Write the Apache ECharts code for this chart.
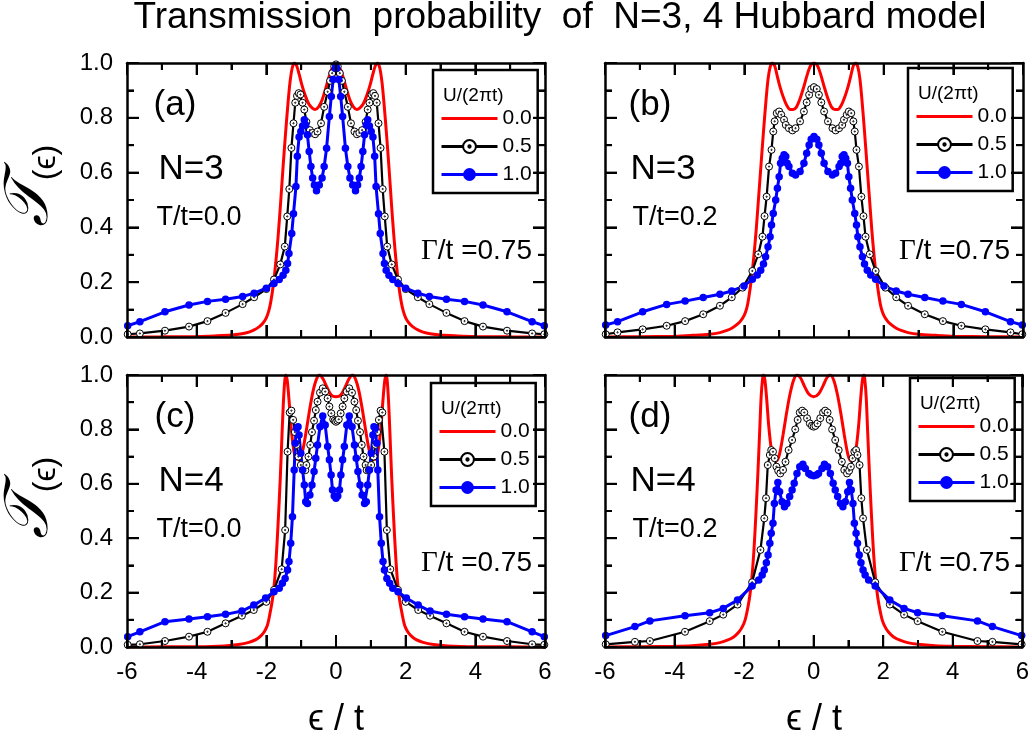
<!DOCTYPE html>
<html><head><meta charset="utf-8">
<script src="https://cdn.jsdelivr.net/npm/echarts@6/dist/echarts.min.js"></script>
<style>html,body{margin:0;padding:0;background:#fff}#wrap{position:relative;width:1032px;height:736px}.c{position:absolute;left:0;top:0;width:1032px;height:736px}</style>
</head><body><div id="wrap"><div class="c" id="c0"></div><div class="c" id="c1"></div><div class="c" id="c2"></div><div class="c" id="c3"></div></div>
<script>
// ---------- data ----------
const chartTitle = 'Transmission  probability  of  N=3, 4 Hubbard model';
const seriesNames = ['0.0', '0.5', '1.0'];
const legendTitle = 'U/(2\u03c0t)';
const panelLabels = ['(a)', '(b)', '(c)', '(d)'];
const panelN = ['N=3', 'N=3', 'N=4', 'N=4'];
const panelT = ['T/t=0.0', 'T/t=0.2', 'T/t=0.0', 'T/t=0.2'];
const gammaVal = '/t =0.75';
const xLabel = '\u03f5 / t';
const xMajorTicks = [-6, -4, -2, 0, 2, 4, 6];
const xMinorTicks = [-5, -3, -1, 1, 3, 5];
const yMajorTicks = [0, 0.2, 0.4, 0.6, 0.8, 1.0];
const yMinorTicks = [0.1, 0.3, 0.5, 0.7, 0.9];

const redA = [[-6,0],[-5,0.0005],[-4,0.002],[-3.5,0.004],[-3,0.007],[-2.7,0.012],[-2.5,0.018],[-2.35,0.026],[-2.2,0.038],[-2.1,0.05],[-2,0.07],[-1.93,0.095],[-1.87,0.13],[-1.8,0.19],[-1.73,0.27],[-1.66,0.37],[-1.59,0.49],[-1.52,0.62],[-1.45,0.74],[-1.38,0.85],[-1.32,0.93],[-1.26,0.98],[-1.2,1.0],[-1.13,0.99],[-1.06,0.96],[-0.98,0.92],[-0.88,0.88],[-0.78,0.85],[-0.68,0.835],[-0.6,0.83],[-0.5,0.84],[-0.4,0.865],[-0.3,0.905],[-0.2,0.95],[-0.1,0.985],[0,1.0],
[0.1,0.985],[0.2,0.95],[0.3,0.905],[0.4,0.865],[0.5,0.84],[0.6,0.83],[0.68,0.835],[0.78,0.85],[0.88,0.88],[0.98,0.92],[1.06,0.96],[1.13,0.99],[1.2,1.0],[1.26,0.98],[1.32,0.93],[1.38,0.85],[1.45,0.74],[1.52,0.62],[1.59,0.49],[1.66,0.37],[1.73,0.27],[1.8,0.19],[1.87,0.13],[1.93,0.095],[2,0.07],[2.1,0.05],[2.2,0.038],[2.35,0.026],[2.5,0.018],[2.7,0.012],[3,0.007],[3.5,0.004],[4,0.002],[5,0.0005],[6,0]];
const blackA = [[-5.98,0.01],[-5.63,0.013],[-4.91,0.023],[-4.22,0.038],[-3.69,0.058],[-3.17,0.088],[-2.68,0.12],[-2.35,0.145],[-2,0.175],[-1.78,0.21],[-1.6,0.265],[-1.47,0.33],[-1.4,0.44],[-1.34,0.54],[-1.28,0.69],[-1.22,0.78],[-1.17,0.855],[-1.12,0.88],[-1.07,0.89],[-1.02,0.885],[-0.96,0.855],[-0.91,0.83],[-0.85,0.785],[-0.75,0.755],[-0.67,0.745],[-0.6,0.74],[-0.53,0.75],[-0.43,0.78],[-0.34,0.84],[-0.24,0.895],[-0.17,0.935],[-0.11,0.963],[-0.05,0.988],[0,0.995],
[0.05,0.988],[0.11,0.963],[0.17,0.935],[0.24,0.895],[0.34,0.84],[0.43,0.78],[0.53,0.75],[0.6,0.74],[0.67,0.745],[0.75,0.755],[0.85,0.785],[0.91,0.83],[0.96,0.855],[1.02,0.885],[1.07,0.89],[1.12,0.88],[1.17,0.855],[1.22,0.78],[1.28,0.69],[1.34,0.54],[1.4,0.44],[1.47,0.33],[1.6,0.265],[1.78,0.21],[2,0.175],[2.35,0.145],[2.68,0.12],[3.17,0.088],[3.69,0.058],[4.22,0.038],[4.91,0.023],[5.63,0.013],[5.98,0.01]];
const blueA = [[-5.98,0.041],[-5.63,0.056],[-4.91,0.092],[-4.22,0.117],[-3.69,0.13],[-3.17,0.138],[-2.68,0.148],[-2.35,0.16],[-2,0.178],[-1.78,0.195],[-1.63,0.21],[-1.52,0.225],[-1.44,0.244],[-1.39,0.268],[-1.35,0.305],[-1.27,0.378],[-1.22,0.45],[-1.15,0.549],[-1.11,0.66],[-1.06,0.73],[-1.01,0.75],[-0.96,0.77],[-0.91,0.793],[-0.87,0.774],[-0.82,0.738],[-0.77,0.677],[-0.72,0.622],[-0.67,0.58],[-0.62,0.555],[-0.56,0.534],[-0.48,0.555],[-0.4,0.58],[-0.34,0.622],[-0.27,0.689],[-0.19,0.805],[-0.135,0.878],[-0.08,0.94],[-0.02,0.98],[0,0.99],
[0.02,0.98],[0.08,0.94],[0.135,0.878],[0.19,0.805],[0.27,0.689],[0.34,0.622],[0.4,0.58],[0.48,0.555],[0.56,0.534],[0.62,0.555],[0.67,0.58],[0.72,0.622],[0.77,0.677],[0.82,0.738],[0.87,0.774],[0.91,0.793],[0.96,0.77],[1.01,0.75],[1.06,0.73],[1.11,0.66],[1.15,0.549],[1.22,0.45],[1.27,0.378],[1.35,0.305],[1.39,0.268],[1.44,0.244],[1.52,0.225],[1.63,0.21],[1.78,0.195],[2,0.178],[2.35,0.16],[2.68,0.148],[3.17,0.138],[3.69,0.13],[4.22,0.117],[4.91,0.092],[5.63,0.056],[5.98,0.041]];

const redB = [[-6,0],[-5,0.001],[-4,0.003],[-3.5,0.006],[-3,0.01],[-2.7,0.016],[-2.5,0.024],[-2.35,0.033],[-2.2,0.047],[-2.1,0.06],[-2,0.08],[-1.93,0.105],[-1.87,0.145],[-1.8,0.21],[-1.73,0.29],[-1.66,0.39],[-1.59,0.51],[-1.52,0.63],[-1.45,0.75],[-1.38,0.86],[-1.32,0.94],[-1.26,0.985],[-1.2,1.0],[-1.13,0.99],[-1.06,0.955],[-0.98,0.915],[-0.88,0.875],[-0.78,0.845],[-0.68,0.83],[-0.6,0.83],[-0.5,0.84],[-0.4,0.87],[-0.3,0.91],[-0.2,0.955],[-0.1,0.99],[0,1.0],
[0.1,0.99],[0.2,0.955],[0.3,0.91],[0.4,0.87],[0.5,0.84],[0.6,0.83],[0.68,0.83],[0.78,0.845],[0.88,0.875],[0.98,0.915],[1.06,0.955],[1.13,0.99],[1.2,1.0],[1.26,0.985],[1.32,0.94],[1.38,0.86],[1.45,0.75],[1.52,0.63],[1.59,0.51],[1.66,0.39],[1.73,0.29],[1.8,0.21],[1.87,0.145],[1.93,0.105],[2,0.08],[2.1,0.06],[2.2,0.047],[2.35,0.033],[2.5,0.024],[2.7,0.016],[3,0.01],[3.5,0.006],[4,0.003],[5,0.001],[6,0]];
const blackB = [[-5.98,0.01],[-5.64,0.017],[-4.92,0.028],[-4.23,0.041],[-3.7,0.058],[-3.18,0.083],[-2.7,0.114],[-2.36,0.145],[-2.05,0.18],[-1.77,0.241],[-1.6,0.302],[-1.48,0.366],[-1.42,0.441],[-1.36,0.512],[-1.29,0.622],[-1.22,0.683],[-1.17,0.75],[-1.13,0.787],[-1.07,0.817],[-1,0.823],[-0.94,0.811],[-0.86,0.793],[-0.81,0.774],[-0.72,0.762],[-0.62,0.754],[-0.53,0.762],[-0.4,0.787],[-0.29,0.823],[-0.21,0.856],[-0.14,0.884],[-0.08,0.905],[0,0.912],
[0.08,0.905],[0.14,0.884],[0.21,0.856],[0.29,0.823],[0.4,0.787],[0.53,0.762],[0.62,0.754],[0.72,0.762],[0.81,0.774],[0.86,0.793],[0.94,0.811],[1,0.823],[1.07,0.817],[1.13,0.787],[1.17,0.75],[1.22,0.683],[1.29,0.622],[1.36,0.512],[1.42,0.441],[1.48,0.366],[1.6,0.302],[1.77,0.241],[2.05,0.18],[2.36,0.145],[2.7,0.114],[3.18,0.083],[3.7,0.058],[4.23,0.041],[4.92,0.028],[5.64,0.017],[5.98,0.01]];
const blueB = [[-5.98,0.044],[-5.64,0.056],[-4.92,0.092],[-4.23,0.119],[-3.7,0.131],[-3.18,0.144],[-2.7,0.156],[-2.36,0.168],[-2.01,0.186],[-1.77,0.211],[-1.63,0.226],[-1.53,0.244],[-1.45,0.266],[-1.39,0.293],[-1.32,0.329],[-1.26,0.366],[-1.22,0.409],[-1.17,0.451],[-1.1,0.5],[-1.05,0.543],[-1,0.585],[-0.96,0.634],[-0.91,0.652],[-0.86,0.665],[-0.81,0.659],[-0.77,0.634],[-0.72,0.622],[-0.62,0.598],[-0.53,0.591],[-0.4,0.604],[-0.29,0.634],[-0.21,0.671],[-0.14,0.701],[-0.08,0.722],[0,0.732],
[0.08,0.722],[0.14,0.701],[0.21,0.671],[0.29,0.634],[0.4,0.604],[0.53,0.591],[0.62,0.598],[0.72,0.622],[0.77,0.634],[0.81,0.659],[0.86,0.665],[0.91,0.652],[0.96,0.634],[1,0.585],[1.05,0.543],[1.1,0.5],[1.17,0.451],[1.22,0.409],[1.26,0.366],[1.32,0.329],[1.39,0.293],[1.45,0.266],[1.53,0.244],[1.63,0.226],[1.77,0.211],[2.01,0.186],[2.36,0.168],[2.7,0.156],[3.18,0.144],[3.7,0.131],[4.23,0.119],[4.92,0.092],[5.64,0.056],[5.98,0.044]];

const redC = [[-6,0],[-5,0.0005],[-4,0.001],[-3.2,0.004],[-2.8,0.009],[-2.5,0.017],[-2.3,0.027],[-2.15,0.042],[-2.05,0.058],[-1.97,0.08],[-1.9,0.12],[-1.83,0.17],[-1.78,0.22],[-1.72,0.32],[-1.66,0.46],[-1.6,0.62],[-1.55,0.78],[-1.51,0.9],[-1.47,0.98],[-1.44,1.0],[-1.4,0.98],[-1.35,0.91],[-1.29,0.81],[-1.22,0.73],[-1.14,0.69],[-1.05,0.69],[-0.96,0.72],[-0.86,0.79],[-0.76,0.87],[-0.66,0.94],[-0.56,0.985],[-0.47,1.0],[-0.37,0.985],[-0.26,0.955],[-0.13,0.925],[0,0.92],
[0.13,0.925],[0.26,0.955],[0.37,0.985],[0.47,1.0],[0.56,0.985],[0.66,0.94],[0.76,0.87],[0.86,0.79],[0.96,0.72],[1.05,0.69],[1.14,0.69],[1.22,0.73],[1.29,0.81],[1.35,0.91],[1.4,0.98],[1.44,1.0],[1.47,0.98],[1.51,0.9],[1.55,0.78],[1.6,0.62],[1.66,0.46],[1.72,0.32],[1.78,0.22],[1.83,0.17],[1.9,0.12],[1.97,0.08],[2.05,0.058],[2.15,0.042],[2.3,0.027],[2.5,0.017],[2.8,0.009],[3.2,0.004],[4,0.001],[5,0.0005],[6,0]];
const blackC = [[-5.98,0.008],[-5.63,0.01],[-4.91,0.022],[-4.22,0.038],[-3.69,0.056],[-3.17,0.087],[-2.7,0.115],[-2.36,0.136],[-2,0.166],[-1.78,0.21],[-1.56,0.286],[-1.46,0.43],[-1.39,0.718],[-1.33,0.862],[-1.28,0.869],[-1.23,0.835],[-1.18,0.79],[-1.13,0.743],[-1.08,0.7],[-1.01,0.669],[-0.94,0.65],[-0.88,0.65],[-0.85,0.669],[-0.79,0.7],[-0.74,0.743],[-0.69,0.79],[-0.63,0.832],[-0.58,0.871],[-0.53,0.902],[-0.46,0.935],[-0.38,0.951],[-0.31,0.939],[-0.24,0.914],[-0.19,0.884],[-0.135,0.859],[-0.08,0.837],[-0.04,0.832],[0,0.828],
[0.04,0.832],[0.08,0.837],[0.135,0.859],[0.19,0.884],[0.24,0.914],[0.31,0.939],[0.38,0.951],[0.46,0.935],[0.53,0.902],[0.58,0.871],[0.63,0.832],[0.69,0.79],[0.74,0.743],[0.79,0.7],[0.85,0.669],[0.88,0.65],[0.94,0.65],[1.01,0.669],[1.08,0.7],[1.13,0.743],[1.18,0.79],[1.23,0.835],[1.28,0.869],[1.33,0.862],[1.39,0.718],[1.46,0.43],[1.56,0.286],[1.78,0.21],[2,0.166],[2.36,0.136],[2.7,0.115],[3.17,0.087],[3.69,0.056],[4.22,0.038],[4.91,0.022],[5.63,0.01],[5.98,0.008]];
const blueC = [[-5.98,0.038],[-5.63,0.056],[-4.91,0.093],[-4.22,0.103],[-3.69,0.111],[-3.17,0.12],[-2.7,0.132],[-2.36,0.154],[-2.02,0.18],[-1.78,0.203],[-1.63,0.216],[-1.54,0.234],[-1.46,0.252],[-1.39,0.283],[-1.35,0.314],[-1.3,0.381],[-1.25,0.479],[-1.2,0.651],[-1.17,0.749],[-1.13,0.804],[-1.09,0.81],[-1.06,0.779],[-1.01,0.712],[-0.96,0.651],[-0.91,0.596],[-0.87,0.534],[-0.82,0.528],[-0.75,0.559],[-0.69,0.596],[-0.63,0.645],[-0.58,0.694],[-0.53,0.743],[-0.46,0.81],[-0.38,0.849],[-0.31,0.816],[-0.24,0.737],[-0.19,0.688],[-0.14,0.632],[-0.1,0.577],[-0.05,0.555],[0,0.547],
[0.05,0.555],[0.1,0.577],[0.14,0.632],[0.19,0.688],[0.24,0.737],[0.31,0.816],[0.38,0.849],[0.46,0.81],[0.53,0.743],[0.58,0.694],[0.63,0.645],[0.69,0.596],[0.75,0.559],[0.82,0.528],[0.87,0.534],[0.91,0.596],[0.96,0.651],[1.01,0.712],[1.06,0.779],[1.09,0.81],[1.13,0.804],[1.17,0.749],[1.2,0.651],[1.25,0.479],[1.3,0.381],[1.35,0.314],[1.39,0.283],[1.46,0.252],[1.54,0.234],[1.63,0.216],[1.78,0.203],[2.02,0.18],[2.36,0.154],[2.7,0.132],[3.17,0.12],[3.69,0.111],[4.22,0.103],[4.91,0.093],[5.63,0.056],[5.98,0.038]];

const redD = [[-6,0],[-5,0.001],[-4,0.003],[-3.5,0.005],[-3,0.01],[-2.7,0.016],[-2.5,0.024],[-2.3,0.037],[-2.15,0.055],[-2.05,0.075],[-1.97,0.1],[-1.9,0.14],[-1.84,0.185],[-1.78,0.25],[-1.72,0.35],[-1.66,0.49],[-1.6,0.65],[-1.55,0.8],[-1.51,0.92],[-1.47,0.985],[-1.44,1.0],[-1.4,0.98],[-1.35,0.91],[-1.29,0.81],[-1.22,0.73],[-1.14,0.69],[-1.06,0.685],[-0.98,0.71],[-0.88,0.78],[-0.78,0.86],[-0.68,0.93],[-0.58,0.98],[-0.48,1.0],[-0.38,0.99],[-0.27,0.96],[-0.14,0.93],[0,0.92],
[0.14,0.93],[0.27,0.96],[0.38,0.99],[0.48,1.0],[0.58,0.98],[0.68,0.93],[0.78,0.86],[0.88,0.78],[0.98,0.71],[1.06,0.685],[1.14,0.69],[1.22,0.73],[1.29,0.81],[1.35,0.91],[1.4,0.98],[1.44,1.0],[1.47,0.985],[1.51,0.92],[1.55,0.8],[1.6,0.65],[1.66,0.49],[1.72,0.35],[1.78,0.25],[1.84,0.185],[1.9,0.14],[1.97,0.1],[2.05,0.075],[2.15,0.055],[2.3,0.037],[2.5,0.024],[2.7,0.016],[3,0.01],[3.5,0.005],[4,0.003],[5,0.001],[6,0]];
const blackD = [[-5.98,0.01],[-5.14,0.019],[-4.71,0.022],[-3.7,0.056],[-2.99,0.095],[-2.6,0.119],[-2.19,0.156],[-1.77,0.238],[-1.53,0.357],[-1.42,0.473],[-1.37,0.547],[-1.32,0.669],[-1.26,0.706],[-1.22,0.724],[-1.17,0.718],[-1.12,0.694],[-1.07,0.663],[-1.02,0.648],[-0.96,0.638],[-0.88,0.651],[-0.81,0.681],[-0.72,0.724],[-0.62,0.761],[-0.53,0.8],[-0.46,0.835],[-0.4,0.862],[-0.33,0.869],[-0.27,0.862],[-0.19,0.841],[-0.11,0.822],[-0.05,0.813],[0,0.81],
[0.05,0.813],[0.11,0.822],[0.19,0.841],[0.27,0.862],[0.33,0.869],[0.4,0.862],[0.46,0.835],[0.53,0.8],[0.62,0.761],[0.72,0.724],[0.81,0.681],[0.88,0.651],[0.96,0.638],[1.02,0.648],[1.07,0.663],[1.12,0.694],[1.17,0.718],[1.22,0.724],[1.26,0.706],[1.32,0.669],[1.37,0.547],[1.42,0.473],[1.53,0.357],[1.77,0.238],[2.19,0.156],[2.6,0.119],[2.99,0.095],[3.7,0.056],[4.71,0.022],[5.14,0.019],[5.98,0.01]];
const blueD = [[-5.98,0.042],[-5.14,0.075],[-4.71,0.096],[-3.7,0.115],[-2.99,0.126],[-2.6,0.142],[-2.19,0.173],[-1.77,0.224],[-1.58,0.246],[-1.48,0.265],[-1.42,0.283],[-1.36,0.31],[-1.31,0.338],[-1.26,0.381],[-1.22,0.418],[-1.17,0.455],[-1.13,0.528],[-1.08,0.577],[-1.03,0.605],[-0.98,0.571],[-0.91,0.534],[-0.84,0.516],[-0.77,0.528],[-0.69,0.553],[-0.62,0.577],[-0.56,0.602],[-0.48,0.638],[-0.4,0.663],[-0.31,0.672],[-0.24,0.656],[-0.14,0.638],[-0.08,0.632],[0,0.63],
[0.08,0.632],[0.14,0.638],[0.24,0.656],[0.31,0.672],[0.4,0.663],[0.48,0.638],[0.56,0.602],[0.62,0.577],[0.69,0.553],[0.77,0.528],[0.84,0.516],[0.91,0.534],[0.98,0.571],[1.03,0.605],[1.08,0.577],[1.13,0.528],[1.17,0.455],[1.22,0.418],[1.26,0.381],[1.31,0.338],[1.36,0.31],[1.42,0.283],[1.48,0.265],[1.58,0.246],[1.77,0.224],[2.19,0.173],[2.6,0.142],[2.99,0.126],[3.7,0.115],[4.71,0.096],[5.14,0.075],[5.98,0.042]];

// ---------- layout ----------
const FONT = '"Liberation Sans", Arial, Helvetica, sans-serif';
const panelData = [[redA, blackA, blueA], [redB, blackB, blueB], [redC, blackC, blueC], [redD, blackD, blueD]];
const grids = [
  {left: 127, top: 63, width: 418, height: 274},
  {left: 605, top: 63, width: 418, height: 274},
  {left: 127, top: 375, width: 418, height: 272},
  {left: 605, top: 375, width: 418, height: 272}
];
const legendPos = [[433, 70], [908, 68], [431, 383], [910, 378]];
const showYLabels = [true, false, true, false];
const showXLabels = [false, false, true, true];
const ringSymbol = 'path://M0,5A5,5,0,1,1,10,5A5,5,0,1,1,0,5ZM4.1,5A0.9,0.9,0,1,1,5.9,5A0.9,0.9,0,1,1,4.1,5Z';
const MAJOR_LEN = 12, MINOR_LEN = 7;

const mkLine = () => ({show: true, onZero: false, lineStyle: {color: '#000', width: 2.5}});
const mkTick = () => ({show: true, inside: true, length: MAJOR_LEN, lineStyle: {color: '#000', width: 2}});
const mkMinor = () => ({show: true, splitNumber: 2, length: MINOR_LEN, lineStyle: {color: '#000', width: 2}});

grids.forEach((g, i) => {
  const xA = [], yA = [], graphics = [];
  ['bottom', 'top'].forEach((pos, k) => xA.push({
    type: 'value', gridIndex: 0, position: pos, min: -6, max: 6, interval: 2, z: 10,
    axisLine: mkLine(), axisTick: mkTick(), minorTick: mkMinor(), splitLine: {show: false},
    axisLabel: {show: k === 0 && showXLabels[i], margin: 13, fontSize: 24, color: '#000', fontFamily: FONT}
  }));
  ['left', 'right'].forEach((pos, k) => yA.push({
    type: 'value', gridIndex: 0, position: pos, min: 0, max: 1, interval: 0.2, z: 10,
    axisLine: mkLine(), axisTick: mkTick(), minorTick: mkMinor(), splitLine: {show: false},
    axisLabel: {show: k === 0 && showYLabels[i], margin: 14, fontSize: 24, color: '#000', fontFamily: FONT,
      formatter: v => v.toFixed(1)}
  }));
  const [red, black, blue] = panelData[i];
  const series = [
    {name: seriesNames[0], type: 'line', data: red, showSymbol: false, symbol: 'none', smooth: 0.3,
      lineStyle: {color: '#ff0000', width: 3}, itemStyle: {color: 'rgba(0,0,0,0)'}},
    {name: seriesNames[1], type: 'line', data: black, symbol: ringSymbol, symbolSize: 7, showAllSymbol: true,
      lineStyle: {color: '#000', width: 2.2}, itemStyle: {color: '#fff', borderColor: '#000', borderWidth: 1}},
    {name: seriesNames[2], type: 'line', data: blue, symbol: 'circle', symbolSize: 7.5, showAllSymbol: true,
      lineStyle: {color: '#0000ff', width: 3}, itemStyle: {color: '#0000ff'}}
  ];
  const [lx, ly] = legendPos[i];
  const legend = [{
    left: lx, top: ly, orient: 'vertical', data: seriesNames, selectedMode: false,
    itemWidth: 56, itemHeight: 16, itemGap: 7, padding: [38, 6, 8, 7],
    borderColor: '#000', borderWidth: 2.5, backgroundColor: '#fff', lineStyle: {width: 3},
    textStyle: {fontSize: 21, color: '#000', fontFamily: FONT}
  }];
  graphics.push({type: 'text', x: lx + 10, y: ly + 26, z: 100,
    style: {text: legendTitle, font: '19px ' + FONT, fill: '#000', verticalAlign: 'middle', align: 'left'}});
  const gx = g.left, gy = g.top, odd = i % 2 === 1;
  graphics.push({type: 'text', x: gx + 48 + (odd ? -3 : 0), y: gy + 42,
    style: {text: panelLabels[i], font: '35px ' + FONT, fill: '#000', align: 'center', verticalAlign: 'middle'}});
  graphics.push({type: 'text', x: gx + 64 + (odd ? -6 : 0), y: gy + 106,
    style: {text: panelN[i], font: '35px ' + FONT, fill: '#000', align: 'center', verticalAlign: 'middle'}});
  graphics.push({type: 'text', x: gx + 72 + (odd ? -2 : 0), y: gy + 155,
    style: {text: panelT[i], font: '27px ' + FONT, fill: '#000', align: 'center', verticalAlign: 'middle'}});
  graphics.push({type: 'text', x: gx + g.width - 13, y: gy + 188,
    style: {text: '{g|\u0393}{r|' + gammaVal + '}', align: 'right', verticalAlign: 'middle',
      rich: {g: {font: '29px "Liberation Serif", "Times New Roman", serif', fill: '#000'},
             r: {font: '28px ' + FONT, fill: '#000'}}}});
  if (i === 0) graphics.push({type: 'text', x: 560, y: 18,
    style: {text: chartTitle, font: '37px ' + FONT, fill: '#000', align: 'center', verticalAlign: 'middle'}});
  if (showXLabels[i]) graphics.push({type: 'text', x: gx + g.width / 2, y: 720,
    style: {text: xLabel, font: '36px ' + FONT, fill: '#000', align: 'center', verticalAlign: 'middle'}});
  if (showYLabels[i]) graphics.push({type: 'text', x: 31, y: gy + 123, rotation: Math.PI / 2,
    style: {text: '{t|\ud835\udcaf}{s|(\u03f5)}', align: 'center', verticalAlign: 'middle',
      rich: {t: {font: 'italic 62px "DejaVu Serif", "DejaVu Sans", serif', fill: '#000'},
             s: {font: '32px ' + FONT, fill: '#000', verticalAlign: 'bottom'}}}});
  const chart = echarts.init(document.getElementById('c' + i));
  chart.setOption({animation: false, grid: [g], xAxis: xA, yAxis: yA, series, legend, graphic: graphics});

  // inward tick marks on all four sides, placed through the library's own axis scales
  const tickEls = [];
  const tickStyle = {stroke: '#000', lineWidth: 2};
  const bottom = gy + g.height, right = gx + g.width;
  const addX = (v, len) => {
    const px = chart.convertToPixel({xAxisIndex: 0}, v);
    tickEls.push({type: 'line', z: 60, silent: true, shape: {x1: px, y1: bottom, x2: px, y2: bottom - len}, style: tickStyle});
    tickEls.push({type: 'line', z: 60, silent: true, shape: {x1: px, y1: gy, x2: px, y2: gy + len}, style: tickStyle});
  };
  const addY = (v, len) => {
    const py = chart.convertToPixel({yAxisIndex: 0}, v);
    tickEls.push({type: 'line', z: 60, silent: true, shape: {x1: gx, y1: py, x2: gx + len, y2: py}, style: tickStyle});
    tickEls.push({type: 'line', z: 60, silent: true, shape: {x1: right, y1: py, x2: right - len, y2: py}, style: tickStyle});
  };
  xMajorTicks.forEach(v => addX(v, MAJOR_LEN));
  xMinorTicks.forEach(v => addX(v, MINOR_LEN));
  yMajorTicks.forEach(v => addY(v, MAJOR_LEN));
  yMinorTicks.forEach(v => addY(v, MINOR_LEN));
  chart.setOption({graphic: graphics.concat(tickEls)});
});
</script></body></html>
